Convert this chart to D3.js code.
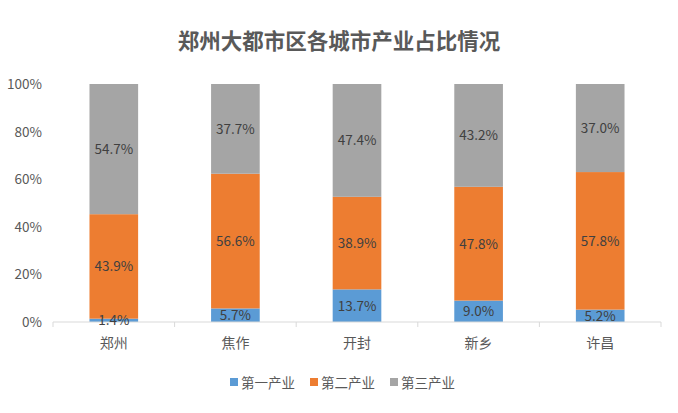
<!DOCTYPE html>
<html><head><meta charset="utf-8">
<script src="https://cdn.jsdelivr.net/npm/d3@7"></script>
<style>body{margin:0;background:#fff}svg{display:block}</style>
</head><body><svg id="c" width="678" height="413"></svg>
<script>
const categories = ["郑州","焦作","开封","新乡","许昌"];
const seriesNames = ["第一产业","第二产业","第三产业"];
const primary = [1.4,5.7,13.7,9.0,5.2];
const secondary = [43.9,56.6,38.9,47.8,57.8];
const tertiary = [54.7,37.7,47.4,43.2,37.0];
const yTicks = [0,20,40,60,80,100];
const colors = ["#5B9BD5","#ED7D31","#A5A5A5"];
const font = "'Microsoft YaHei','Noto Sans CJK SC',sans-serif";

const svg = d3.select("#c");
const x = d3.scaleBand().domain(categories).range([53,661]).paddingInner(0.6).paddingOuter(0.3);
const y = d3.scaleLinear().domain([0,100]).range([322,84]);

const rows = categories.map((c,i)=>({cat:c,"第一产业":primary[i],"第二产业":secondary[i],"第三产业":tertiary[i]}));
const stack = d3.stack().keys(seriesNames)(rows);

svg.append("text").attr("x",339).attr("y",49).attr("text-anchor","middle")
  .attr("font-family",font).attr("font-weight","bold").attr("font-size",21.5).attr("fill","#595959")
  .text("郑州大都市区各城市产业占比情况");

// y axis labels
svg.append("g").selectAll("text").data(yTicks).join("text")
  .attr("x",42).attr("y",d=>y(d)+5).attr("text-anchor","end")
  .attr("font-family",font).attr("font-size",13.5).attr("fill","#595959")
  .text(d=>d+"%");

// bars
stack.forEach((s,si)=>{
  svg.append("g").selectAll("rect").data(s).join("rect")
    .attr("x",d=>x(d.data.cat)).attr("width",x.bandwidth())
    .attr("y",d=>y(d[1])).attr("height",d=>y(d[0])-y(d[1]))
    .attr("fill",colors[si]);
});

// x axis
const xAxis = d3.axisBottom(x).tickSize(0).tickPadding(16);
const gx = svg.append("g").attr("transform","translate(0,322)").call(xAxis);
gx.select(".domain").attr("stroke","#D9D9D9").attr("d","M53,0H661");
gx.selectAll("text").attr("font-family",font).attr("font-size",14).attr("fill","#595959");
const bounds = d3.range(categories.length+1).map(i=>53+i*(608/categories.length));
gx.selectAll("line.b").data(bounds).join("line").attr("class","b")
  .attr("x1",d=>d).attr("x2",d=>d).attr("y1",0).attr("y2",5).attr("stroke","#D9D9D9");

// labels
stack.forEach((s,si)=>{
  svg.append("g").selectAll("text").data(s).join("text")
    .attr("x",d=>x(d.data.cat)+x.bandwidth()/2)
    .attr("y",d=>(y(d[0])+y(d[1]))/2+5)
    .attr("text-anchor","middle").attr("font-family",font).attr("font-size",13.5).attr("fill","#404040")
    .text(d=>(d[1]-d[0]).toFixed(1)+"%");
});

// legend
const lg = svg.append("g");
const lx = [230,310,390];
seriesNames.forEach((n,i)=>{
  lg.append("rect").attr("x",lx[i]).attr("y",378).attr("width",8).attr("height",8).attr("fill",colors[i]);
  lg.append("text").attr("x",lx[i]+11).attr("y",387.5).attr("font-family",font).attr("font-size",13.5).attr("fill","#595959").text(n);
});
</script></body></html>
